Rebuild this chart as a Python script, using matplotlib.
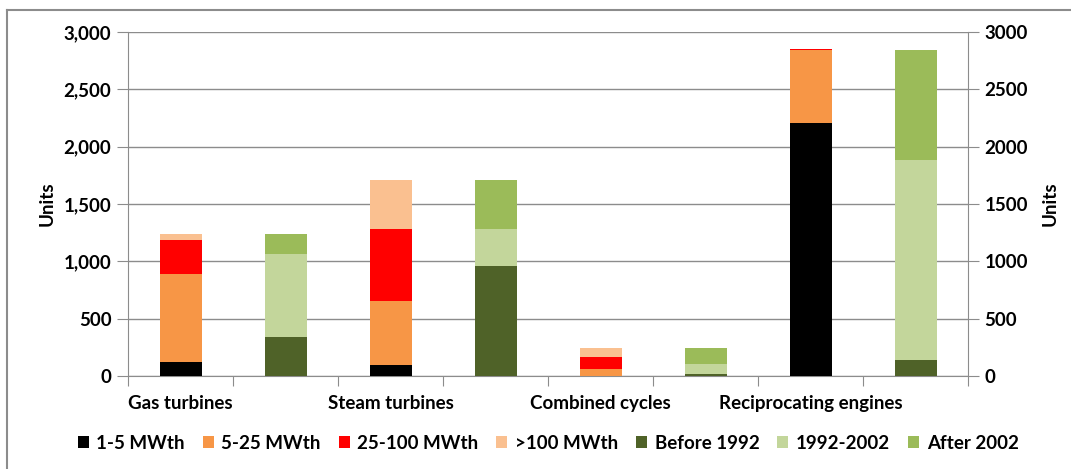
import matplotlib
matplotlib.use("Agg")
import matplotlib.pyplot as plt
from matplotlib.lines import Line2D
from matplotlib.ticker import FuncFormatter, FixedLocator
import numpy as np

plt.rcParams['font.family'] = ['Lato', 'DejaVu Sans']

categories = ["Gas turbines", "Steam turbines", "Combined cycles", "Reciprocating engines"]

# size classes (left bar in each group)
size_labels = ["1-5 MWth", "5-25 MWth", "25-100 MWth", ">100 MWth"]
size_1_5 = [120, 100, 0, 2210]
size_5_25 = [770, 555, 60, 635]
size_25_100 = [300, 625, 110, 10]
size_100 = [50, 425, 75, 0]

# age classes (right bar in each group)
age_labels = ["Before 1992", "1992-2002", "After 2002"]
age_before = [340, 960, 15, 140]
age_mid = [720, 325, 90, 1740]
age_after = [180, 420, 140, 965]

size_colors = ["#000000", "#F79646", "#FF0000", "#FAC090"]
age_colors = ["#4F6228", "#C3D69B", "#9BBB59"]

FS = 13.5

fig = plt.figure(figsize=(10.71, 4.69), dpi=100)
ax = fig.add_axes([128 / 1071, 93 / 469, 840 / 1071, 344 / 469])

n = len(categories)
x_size = np.arange(n) * 2 + 0.5
x_age = np.arange(n) * 2 + 1.5
w = 0.4

handles = []
bottom = np.zeros(n)
for vals, col, lab in zip([size_1_5, size_5_25, size_25_100, size_100], size_colors, size_labels):
    b = ax.bar(x_size, vals, w, bottom=bottom, color=col, label=lab, zorder=3, linewidth=0)
    bottom += np.array(vals)
    handles.append(b)

bottom = np.zeros(n)
for vals, col, lab in zip([age_before, age_mid, age_after], age_colors, age_labels):
    b = ax.bar(x_age, vals, w, bottom=bottom, color=col, label=lab, zorder=3, linewidth=0)
    bottom += np.array(vals)
    handles.append(b)

grid_col = "#8C8C8C"
ax.set_xlim(0, 2 * n)
ax.set_ylim(0, 3000)
ax.set_yticks(np.arange(0, 3001, 500))
ax.yaxis.set_major_formatter(FuncFormatter(lambda v, p: f"{int(v):,}"))
ax.grid(axis="y", color=grid_col, linewidth=1, zorder=0)
ax.set_axisbelow(True)

ax.xaxis.set_major_locator(FixedLocator(np.arange(0, 2 * n + 1)))
ax.xaxis.set_minor_locator(FixedLocator(x_size))
ax.set_xticklabels([""] * (2 * n + 1))
ax.set_xticklabels(categories, minor=True, fontsize=FS, fontweight="bold")
ax.tick_params(axis="x", which="major", length=7, color=grid_col, direction="out")
ax.tick_params(axis="x", which="minor", length=0, pad=14)
ax.tick_params(axis="y", length=8, color=grid_col, labelsize=FS, pad=4)
for t in ax.get_yticklabels():
    t.set_fontweight("bold")

for s in ["top", "right"]:
    ax.spines[s].set_visible(False)
ax.spines["left"].set_color(grid_col)
ax.spines["bottom"].set_color(grid_col)
ax.set_ylabel("Units", fontsize=FS, fontweight="bold", labelpad=6)

ax2 = ax.twinx()
ax2.set_ylim(0, 3000)
ax2.set_yticks(np.arange(0, 3001, 500))
ax2.yaxis.set_major_formatter(FuncFormatter(lambda v, p: f"{int(v)}"))
ax2.tick_params(axis="y", length=8, color=grid_col, labelsize=FS, pad=4)
for t in ax2.get_yticklabels():
    t.set_fontweight("bold")
for s in ["top", "left", "bottom"]:
    ax2.spines[s].set_visible(False)
ax2.spines["right"].set_color(grid_col)
ax2.set_ylabel("Units", fontsize=FS, fontweight="bold", labelpad=10)

fig.legend(handles, size_labels + age_labels, loc="center", bbox_to_anchor=(548 / 1071, 1 - 443 / 469),
           ncol=7, frameon=False, prop={"size": FS, "weight": "bold"},
           handlelength=0.6, handleheight=0.6, handletextpad=0.4, columnspacing=0.95)

# outer chart border (left and top visible in crop)
fig.add_artist(Line2D([7 / 1071, 7 / 1071], [0, 1 - 10 / 469], transform=fig.transFigure, color="#8C8C8C", linewidth=1.5))
fig.add_artist(Line2D([7 / 1071, 1], [1 - 10 / 469, 1 - 10 / 469], transform=fig.transFigure, color="#8C8C8C", linewidth=1.5))

fig.savefig("out.png", dpi=100)
